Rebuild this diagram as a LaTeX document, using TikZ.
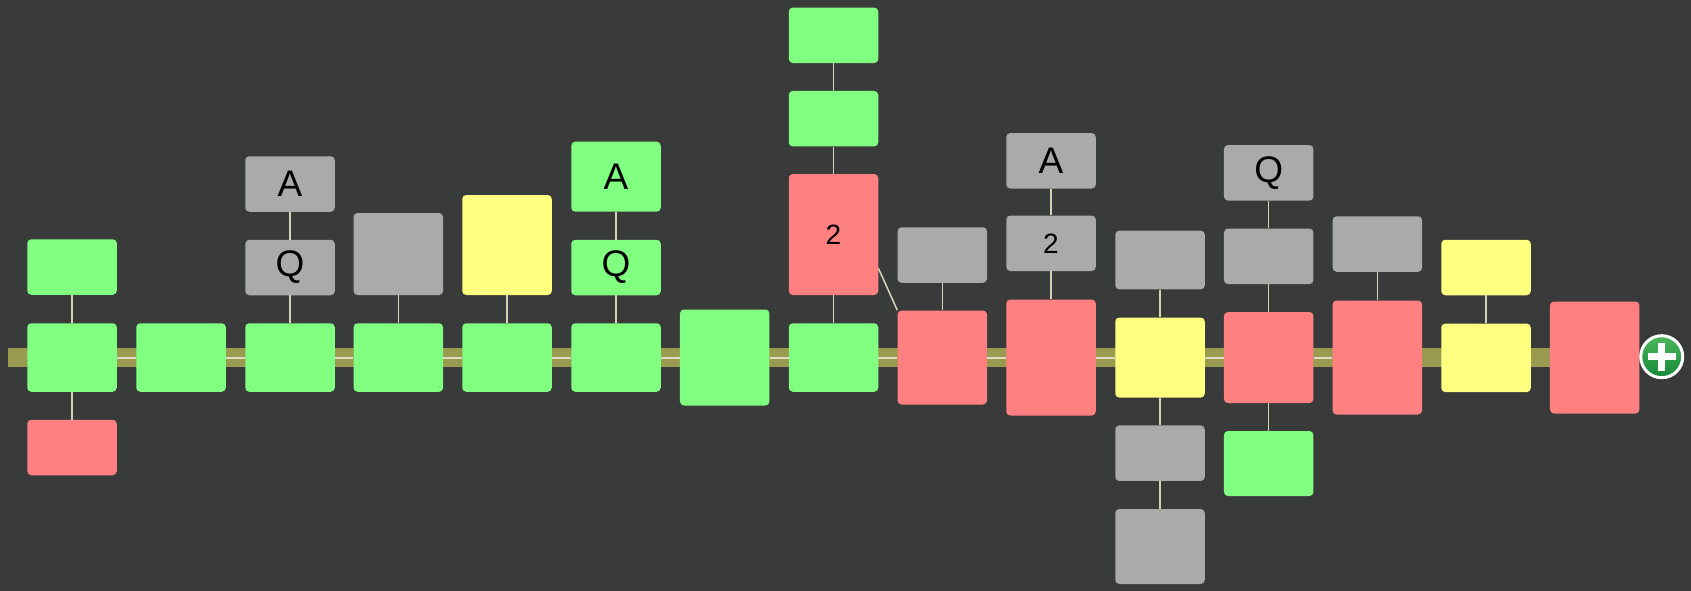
\documentclass[tikz,border=0pt]{standalone}
\usepackage{fontspec}
\setmainfont{Liberation Sans}
\usetikzlibrary{positioning}
\definecolor{bgdark}{HTML}{393A3A}
\definecolor{okgreen}{HTML}{80FF80}
\definecolor{badred}{HTML}{FF8080}
\definecolor{warnyellow}{HTML}{FFFF80}
\definecolor{idlegray}{HTML}{AAAAAA}
\definecolor{trackolive}{HTML}{9A9A50}
\definecolor{linkpale}{HTML}{D6D4B4}
\definecolor{addtop}{HTML}{4DB85A}
\definecolor{addbot}{HTML}{13893A}

\begin{document}
\begin{tikzpicture}[
  x=1pt, y=-1pt,
  box/.style={rounded corners=4pt,minimum width=89.5pt,inner sep=0pt,font=\fontsize{37}{37}\selectfont},
  okbox/.style={box,fill=okgreen},
  badbox/.style={box,fill=badred},
  warnbox/.style={box,fill=warnyellow},
  idlebox/.style={box,fill=idlegray},
  main/.style={minimum height=68.5pt},
  small/.style={minimum height=55.5pt},
  num/.style={font=\fontsize{28}{28}\selectfont},
  link/.style={draw=linkpale,line width=1.5pt},
  chain/.style={draw=linkpale!80!white,line width=2pt}]
  \useasboundingbox (0,0) rectangle (1691,591);
  \fill[bgdark] (0,0) rectangle (1691,591);
  % track
  \fill[trackolive] (8,348.3) rectangle (1594,366.7);
  % main row
  \node[okbox,main] (m1) at (72,357.5) {};
  \node[okbox,main] (m2) at (181,357.5) {};
  \node[okbox,main] (m3) at (290,357.5) {};
  \node[okbox,main] (m4) at (398.3,357.5) {};
  \node[okbox,main] (m5) at (507,357.5) {};
  \node[okbox,main] (m6) at (616,357.5) {};
  \node[okbox,minimum height=96pt] (m7) at (724.7,357.5) {};
  \node[okbox,main] (m8) at (833.5,357.5) {};
  \node[badbox,minimum height=94pt] (m9) at (942.3,357.5) {};
  \node[badbox,minimum height=116pt] (m10) at (1051,357.5) {};
  \node[warnbox,minimum height=80pt] (m11) at (1160,357.5) {};
  \node[badbox,minimum height=91pt] (m12) at (1268.7,357.5) {};
  \node[badbox,minimum height=114pt] (m13) at (1377.3,357.5) {};
  \node[warnbox,main] (m14) at (1486,357.8) {};
  \node[badbox,minimum height=112pt] (m15) at (1594.7,357.5) {};
  % stacked boxes
  \node[okbox,small] (m1u) at (72,267) {};
  \node[badbox,small] (m1d) at (72,447.5) {};
  \node[idlebox,small] (m3u) at (290,267.5) {Q};
  \node[idlebox,small] (m3uu) at (290,184) {A};
  \node[idlebox,minimum height=82pt] (m4u) at (398.3,254) {};
  \node[warnbox,minimum height=100pt] (m5u) at (507,245) {};
  \node[okbox,small] (m6u) at (616,267.5) {Q};
  \node[okbox,minimum height=70pt] (m6uu) at (616,176.7) {A};
  \node[badbox,num,minimum height=121pt] (m8u) at (833.5,234.5) {2};
  \node[okbox,small] (m8uu) at (833.5,118.7) {};
  \node[okbox,small] (m8uuu) at (833.5,35.3) {};
  \node[idlebox,small] (m9u) at (942.3,255) {};
  \node[idlebox,num,small] (m10u) at (1051,243.3) {2};
  \node[idlebox,small] (m10uu) at (1051,160.8) {A};
  \node[idlebox,minimum height=58.6pt] (m11u) at (1160,260) {};
  \node[idlebox,small] (m11d) at (1160,453.2) {};
  \node[idlebox,minimum height=75pt] (m11dd) at (1160,546.5) {};
  \node[idlebox,small] (m12u) at (1268.7,256.3) {};
  \node[idlebox,small] (m12uu) at (1268.7,172.8) {Q};
  \node[okbox,minimum height=65pt] (m12d) at (1268.7,463.5) {};
  \node[idlebox,small] (m13u) at (1377.3,244) {};
  \node[warnbox,small] (m14u) at (1486,267.5) {};
  % add button
  \node[circle,top color=addtop,bottom color=addbot,draw=white,line width=3pt,minimum size=42pt,inner sep=0pt] (add) at (1661.7,356.7) {};
  \draw[white,line width=7.5pt] ([xshift=-14pt]add.center) -- ([xshift=14pt]add.center);
  \draw[white,line width=7.5pt] ([yshift=-14pt]add.center) -- ([yshift=14pt]add.center);
  % chain along the track
  \foreach \i [count=\j from 2] in {1,...,12} {\draw[chain] (m\i.east) -- (m\j.west);}
  % links
  \draw[link] (m1u) -- (m1); \draw[link] (m1) -- (m1d);
  \draw[link] (m3uu) -- (m3u); \draw[link] (m3u) -- (m3);
  \draw[link] (m4u) -- (m4); \draw[link] (m5u) -- (m5);
  \draw[link] (m6uu) -- (m6u); \draw[link] (m6u) -- (m6);
  \draw[link] (m8uuu) -- (m8uu); \draw[link] (m8uu) -- (m8u); \draw[link] (m8u) -- (m8);
  \draw[link] (m8u.-37) -- (m9.north west);
  \draw[link] (m9u) -- (m9);
  \draw[link] (m10uu) -- (m10u); \draw[link] (m10u) -- (m10);
  \draw[link] (m11u) -- (m11); \draw[link] (m11) -- (m11d); \draw[link] (m11d) -- (m11dd);
  \draw[link] (m12uu) -- (m12u); \draw[link] (m12u) -- (m12); \draw[link] (m12) -- (m12d);
  \draw[link] (m13u) -- (m13); \draw[link] (m14u) -- (m14);
\end{tikzpicture}
\end{document}
